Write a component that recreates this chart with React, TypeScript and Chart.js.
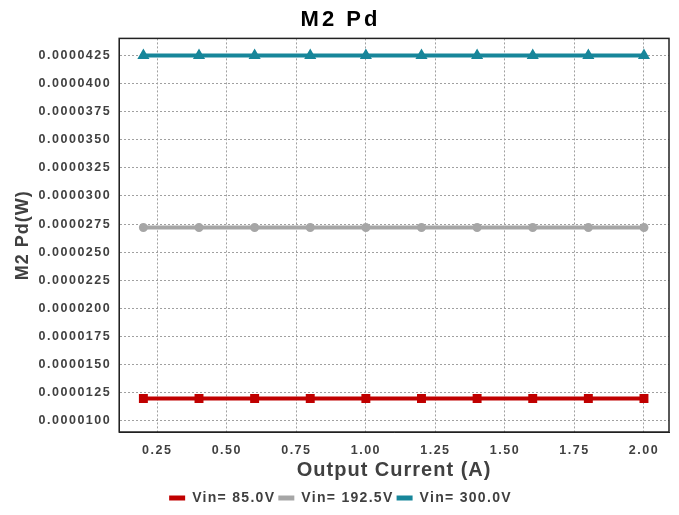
import React, { useEffect, useRef } from "react";
import { Chart, registerables } from "chart.js";
Chart.register(...registerables);

const xValues = [0.2, 0.4, 0.6, 0.8, 1.0, 1.2, 1.4, 1.6, 1.8, 2.0];
const vin85 = [0.000012, 0.000012, 0.000012, 0.000012, 0.000012, 0.000012, 0.000012, 0.000012, 0.000012, 0.000012];
const vin1925 = [0.0000272, 0.0000272, 0.0000272, 0.0000272, 0.0000272, 0.0000272, 0.0000272, 0.0000272, 0.0000272, 0.0000272];
const vin300 = [0.0000425, 0.0000425, 0.0000425, 0.0000425, 0.0000425, 0.0000425, 0.0000425, 0.0000425, 0.0000425, 0.0000425];
const seriesLabels = ["Vin= 85.0V", "Vin= 192.5V", "Vin= 300.0V"];
const xTicks = [0.25, 0.5, 0.75, 1.0, 1.25, 1.5, 1.75, 2.0];
const yTicks = [0.00001, 0.0000125, 0.000015, 0.0000175, 0.00002, 0.0000225, 0.000025, 0.0000275, 0.00003, 0.0000325, 0.000035, 0.0000375, 0.00004, 0.0000425];

const frame = {
  id: "frame",
  afterDraw(chart: any) {
    const { ctx, chartArea: a } = chart;
    ctx.save();
    ctx.strokeStyle = "#222";
    ctx.lineWidth = 1.5;
    ctx.strokeRect(a.left, a.top, a.right - a.left, a.bottom - a.top);
    ctx.restore();
  },
};

function spacingFor(font: string): string {
  const m = /([\d.]+)px/.exec(font);
  const s = m ? parseFloat(m[1]) : 12;
  if (s >= 21) return "3px";
  if (s >= 17) return "1px";
  if (s >= 13.5) return "1.3px";
  return "1.5px";
}

export default function App() {
  const ref = useRef<HTMLCanvasElement>(null);
  useEffect(() => {
    document.body.style.margin = "0";
    const canvas = ref.current!;
    const ctx = canvas.getContext("2d")!;
    const desc = Object.getOwnPropertyDescriptor(CanvasRenderingContext2D.prototype, "font")!;
    Object.defineProperty(ctx, "font", {
      configurable: true,
      get() { return desc.get!.call(this); },
      set(v: string) { desc.set!.call(this, v); (this as any).letterSpacing = spacingFor(v); },
    });
    const mk = (vals: number[]) => vals.map((y, i) => ({ x: xValues[i], y }));
    const font = "'Liberation Sans', Arial, sans-serif";
    const chart = new Chart(ctx, {
      type: "line",
      data: {
        datasets: [
          { label: seriesLabels[0], data: mk(vin85), borderColor: "#c00000", backgroundColor: "#c00000", borderWidth: 4, pointStyle: "rect", pointRadius: 3.5 },
          { label: seriesLabels[1], data: mk(vin1925), borderColor: "#a6a6a6", backgroundColor: "#a6a6a6", borderWidth: 4, pointStyle: "circle", pointRadius: 2.5 },
          { label: seriesLabels[2], data: mk(vin300), borderColor: "#17869a", backgroundColor: "#17869a", borderWidth: 4, pointStyle: "triangle", pointRadius: 3 },
        ],
      },
      options: {
        responsive: false,
        animation: false,
        layout: { padding: { left: 12, right: 10, top: 7, bottom: 0 } },
        plugins: {
          title: { display: true, text: "M2 Pd", color: "#000", font: { family: font, size: 22, weight: "bold" }, padding: { top: 0, bottom: 5 } },
          legend: {
            position: "bottom",
            labels: {
              color: "#404040",
              font: { family: font, size: 14, weight: "bold" },
              boxWidth: 16,
              boxHeight: 5,
              padding: 3,
              generateLabels: (c: any) =>
                c.data.datasets.map((d: any, i: number) => ({
                  text: d.label,
                  fillStyle: d.borderColor,
                  strokeStyle: d.borderColor,
                  lineWidth: 0,
                  fontColor: "#404040",
                  datasetIndex: i,
                })),
            },
          },
          tooltip: { enabled: false },
        },
        scales: {
          x: {
            type: "linear",
            min: 0.113,
            max: 2.09,
            afterBuildTicks: (s: any) => { s.ticks = xTicks.map((v) => ({ value: v })); },
            ticks: { color: "#404040", font: { family: font, size: 12.5, weight: "bold" }, padding: 11, callback: (v: any) => Number(v).toFixed(2) },
            grid: { color: "#a0a0a0", lineWidth: 1, drawTicks: false },
            border: { display: true, color: "#222", dash: [2, 2] } as any,
            title: { display: true, text: "Output Current (A)", color: "#404040", font: { family: font, size: 20, weight: "bold" }, padding: { top: -11, bottom: 6 } },
          },
          y: {
            type: "linear",
            min: 0.00000902,
            max: 0.00004401,
            afterBuildTicks: (s: any) => { s.ticks = yTicks.map((v) => ({ value: v })); },
            ticks: { color: "#404040", font: { family: font, size: 12.5, weight: "bold" }, padding: 8, callback: (v: any) => Number(v).toFixed(7) },
            grid: { color: "#a0a0a0", lineWidth: 1, drawTicks: false },
            border: { display: true, color: "#222", dash: [2, 2] } as any,
            title: { display: true, text: "M2 Pd(W)", color: "#404040", font: { family: font, size: 18, weight: "bold" }, padding: { top: 0, bottom: -3 } },
          },
        },
      } as any,
      plugins: [frame],
    });
    return () => chart.destroy();
  }, []);
  return <canvas ref={ref} width={679} height={515} style={{ display: "block" }} />;
}
